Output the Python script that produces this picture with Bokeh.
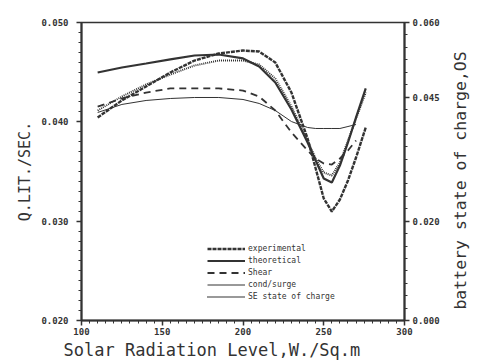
import math
from bokeh.plotting import figure
from bokeh.layouts import row
from bokeh.models import (Range1d, LinearAxis, FixedTicker, Legend, LegendItem,
                          Title, PrintfTickFormatter)
from bokeh.core.properties import value
from bokeh.embed import file_html
from bokeh.resources import INLINE

# Solar radiation level, W/sq.m
radiation = [110, 125, 140, 155, 170, 185, 200, 210, 220, 230, 240, 245, 250,
             255, 260, 265, 270, 276]
# Discharge Q, lit/sec
q_experimental = [0.04044, 0.04215, 0.04356, 0.04497, 0.04617, 0.04688, 0.04718,
                  0.04708, 0.04597, 0.04295, 0.03832, 0.03530, 0.03228, 0.03097,
                  0.03218, 0.03409, 0.03641, 0.03943]
q_theoretical = [0.04497, 0.04547, 0.04587, 0.04628, 0.04668, 0.04678, 0.04638,
                 0.04557, 0.04396, 0.04124, 0.03792, 0.03611, 0.03430, 0.03389,
                 0.03560, 0.03792, 0.04044, 0.04336]
radiation_short = radiation[:17]
q_shear = [0.04154, 0.04235, 0.04295, 0.04336, 0.04336, 0.04336, 0.04315, 0.04255,
           0.04114, 0.03893, 0.03711, 0.03631, 0.03581, 0.03570, 0.03631, 0.03711,
           0.03812]
q_cond = [0.04094, 0.04175, 0.04215, 0.04235, 0.04245, 0.04245, 0.04225, 0.04185,
          0.04114, 0.04003, 0.03943, 0.03933, 0.03933, 0.03933, 0.03933, 0.03953,
          0.03973]
# Battery state of charge (right axis)
soc = [0.04228, 0.04510, 0.04752, 0.04953, 0.05134, 0.05235, 0.05235, 0.05154,
       0.04872, 0.04309, 0.03624, 0.03262, 0.02980, 0.02919, 0.03181, 0.03624,
       0.04067, 0.04591]

x_ticks = [100, 150, 200, 250, 300]
q_ticks = [0.020, 0.030, 0.040, 0.050]
soc_ticks = [0.000, 0.020, 0.045, 0.060]

ink = "#333333"
mono = "DejaVu Sans Mono"

fig = figure(width=447, height=361, output_backend="svg", toolbar_location=None,
             x_range=Range1d(100, 300), y_range=Range1d(0.020, 0.050),
             min_border_left=81, min_border_right=43, min_border_top=22,
             min_border_bottom=41)
fig.extra_y_ranges = {"soc": Range1d(0.0, 0.060)}
fig.grid.visible = False
fig.outline_line_color = ink
fig.outline_line_width = 1.6
fig.background_fill_color = "white"
fig.border_fill_color = "white"

def style_axis(ax):
    ax.axis_line_color = ink
    ax.axis_line_width = 2
    ax.major_tick_line_color = ink
    ax.minor_tick_line_color = ink
    ax.major_tick_line_width = 1.5
    ax.major_tick_in = 0
    ax.major_tick_out = 5
    ax.minor_tick_in = 0
    ax.minor_tick_out = 3
    ax.major_label_text_font = mono
    ax.major_label_text_font_style = "bold"
    ax.major_label_text_font_size = "9px"
    ax.major_label_text_color = ink

xa = fig.xaxis[0]
xa.ticker = FixedTicker(ticks=x_ticks, minor_ticks=list(range(100, 301, 5)))
style_axis(xa)
xa.major_label_standoff = 2

ya = fig.yaxis[0]
ya.ticker = FixedTicker(ticks=q_ticks,
                        minor_ticks=[0.020 + i * 0.001 for i in range(31)])
ya.formatter = PrintfTickFormatter(format="%.3f")
style_axis(ya)
ya.major_label_standoff = 8

ra = LinearAxis(y_range_name="soc")
ra.ticker = FixedTicker(ticks=soc_ticks,
                        minor_ticks=[i * 0.0025 for i in range(25)])
ra.formatter = PrintfTickFormatter(format="%.3f")
style_axis(ra)
ra.major_label_standoff = 3
fig.add_layout(ra, "right")

r_exp = fig.line(radiation, q_experimental, line_color=ink, line_width=2.4,
                 line_dash="4 1")
r_theo = fig.line(radiation, q_theoretical, line_color=ink, line_width=2.2)
r_shear = fig.line(radiation_short, q_shear, line_color=ink, line_width=1.8,
                   line_dash="7 5")
r_cond = fig.line(radiation_short, q_cond, line_color=ink, line_width=1.0)
r_soc = fig.line(radiation, soc, line_color=ink, line_width=2.0, line_dash="1 1",
                 y_range_name="soc")

legend = Legend(items=[
    LegendItem(label="experimental", renderers=[r_exp]),
    LegendItem(label="theoretical", renderers=[r_theo]),
    LegendItem(label="Shear", renderers=[r_shear]),
    LegendItem(label="cond/surge", renderers=[r_cond]),
    LegendItem(label="SE state of charge", renderers=[r_soc]),
], location=(126, 18))
legend.label_text_font = mono
legend.label_text_font_size = "8px"
legend.label_text_color = ink
legend.glyph_width = 38
legend.glyph_height = 11
legend.label_height = 11
legend.spacing = 1
legend.padding = 0
legend.margin = 0
legend.label_standoff = 3
legend.border_line_alpha = 0
legend.background_fill_alpha = 0
fig.add_layout(legend, "center")

fig.add_layout(Title(text="Solar Radiation Level,W./Sq.m", align="left",
                     offset=-18, standoff=0, text_font=mono,
                     text_font_size="17px", text_font_style="normal",
                     text_color=ink), "below")
fig.add_layout(Title(text="Q.LIT./SEC.", align="center", text_font=mono,
                     text_font_size="15px", text_font_style="normal",
                     text_color=ink), "left")

# narrow strip carrying the right-hand caption, reading bottom to top
side = figure(width=30, height=361, output_backend="svg", toolbar_location=None,
              x_range=Range1d(0, 1), y_range=Range1d(0, 1), min_border=0)
side.axis.visible = False
side.grid.visible = False
side.outline_line_color = None
side.border_fill_color = "white"
side.text(x=[0.43], y=[0.47], text=["battery state of charge,OS"],
          angle=math.pi / 2, text_align="center", text_baseline="middle",
          text_font=value(mono), text_font_size="16.5px", text_color=ink)

p = row(fig, side, spacing=0)

open("out.html", "w").write(file_html(p, INLINE))
